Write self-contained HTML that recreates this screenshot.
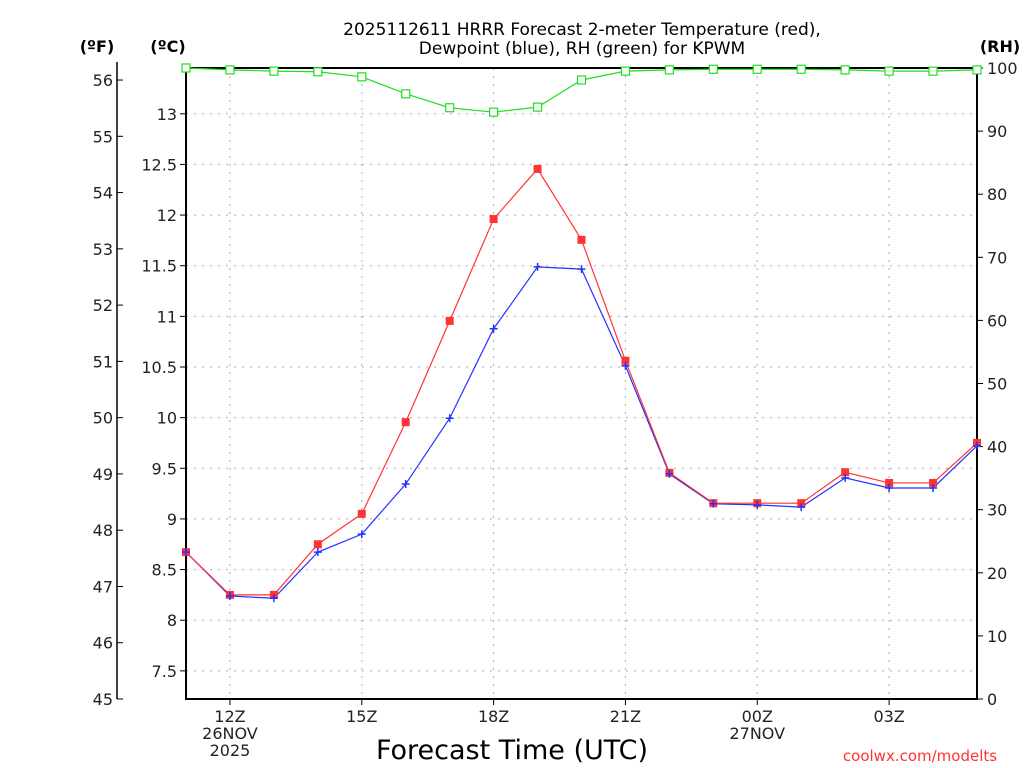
<!DOCTYPE html>
<html><head><meta charset="utf-8"><style>
body{margin:0;background:#fff;}
svg{display:block;font-family:"DejaVu Sans","Liberation Sans",sans-serif;}
</style></head><body>
<svg id="chart" width="1024" height="768" viewBox="0 0 1024 768">
<text x="582" y="35" font-size="17" text-anchor="middle" fill="#000">2025112611 HRRR Forecast 2-meter Temperature (red),</text>
<text x="582" y="54" font-size="17" text-anchor="middle" fill="#000">Dewpoint (blue), RH (green) for KPWM</text>
<text x="97" y="52" font-size="16" font-weight="bold" text-anchor="middle">(ºF)</text>
<text x="168" y="52" font-size="16" font-weight="bold" text-anchor="middle">(ºC)</text>
<text x="1000" y="52" font-size="16" font-weight="bold" text-anchor="middle">(RH)</text>
<text x="512" y="759" font-size="27" text-anchor="middle">Forecast Time (UTC)</text>
<text x="920" y="761" font-size="15" fill="#ff3333" text-anchor="middle">coolwx.com/modelts</text>
<g id="grid"></g><g id="axes"></g><g id="series"></g>
</svg>
<script>
const hours = ["11Z","12Z","13Z","14Z","15Z","16Z","17Z","18Z","19Z","20Z","21Z","22Z","23Z","00Z","01Z","02Z","03Z","04Z","05Z"];
const tempF = [47.61,46.85,46.85,47.75,48.29,49.92,51.72,53.53,54.42,53.16,51.01,49.02,48.48,48.48,48.48,49.03,48.84,48.84,49.55];
const dewF = [47.61,46.83,46.79,47.61,47.93,48.82,49.99,51.58,52.68,52.64,50.92,49.0,48.47,48.45,48.41,48.93,48.75,48.75,49.5];
const rh = [100,99.7,99.5,99.4,98.6,95.9,93.7,93.0,93.8,98.1,99.5,99.7,99.8,99.8,99.8,99.7,99.5,99.5,99.7];
const fTicks = [45,46,47,48,49,50,51,52,53,54,55,56];
const cTicks = [7.5,8,8.5,9,9.5,10,10.5,11,11.5,12,12.5,13];
const rhTicks = [0,10,20,30,40,50,60,70,80,90,100];
const xLabels = [["12Z","26NOV","2025"],["15Z"],["18Z"],["21Z"],["00Z","27NOV"],["03Z"]];
const xLabelIdx = [1,4,7,10,13,16];

const L=186,R=977,T=68,B=699;
const NS="http://www.w3.org/2000/svg";
const xS=i=>L+i*(R-L)/(hours.length-1);
const yF=f=>B-(f-45)*56.27;
const yC=c=>yF(c*1.8+32);
const yRH=r=>B-r*(B-T)/100;
function mk(tag,attrs,parent,text){const e=document.createElementNS(NS,tag);for(const k in attrs)e.setAttribute(k,attrs[k]);if(text!==undefined)e.textContent=text;parent.appendChild(e);return e;}
const grid=document.getElementById('grid'),axes=document.getElementById('axes'),ser=document.getElementById('series');
cTicks.forEach(c=>{const y=yC(c);
 const g=mk('line',{x1:L,x2:R,y1:y,y2:y,stroke:'#aaa','stroke-dasharray':'2,6'},grid);
 
 
 mk('line',{x1:L-6,x2:L,y1:y,y2:y,stroke:'#000'},axes);
 const t=mk('text',{x:L-9,y:y+6,'font-size':16,'text-anchor':'end',fill:'#222'},axes,String(c));
 
 
});
xLabelIdx.forEach((i,k)=>{const x=xS(i);
 const g=mk('line',{x1:x,x2:x,y1:T,y2:B,stroke:'#aaa','stroke-dasharray':'2,6'},grid);
 
 
 mk('line',{x1:x,x2:x,y1:B,y2:B+6,stroke:'#000'},axes);
 xLabels[k].forEach((s,j)=>{const t=mk('text',{x:x,y:B+23+j*17,'font-size':16,'text-anchor':'middle',fill:'#222'},axes,s);
  
  });
});
fTicks.forEach(f=>{const y=yF(f);
 mk('line',{x1:117,x2:123,y1:y,y2:y,stroke:'#000'},axes);
 const t=mk('text',{x:113,y:y+6,'font-size':16,'text-anchor':'end',fill:'#222'},axes,String(f));
 
 
});
mk('line',{x1:117,x2:117,y1:62,y2:B,stroke:'#000','stroke-width':1.5},axes);
rhTicks.forEach(r=>{const y=yRH(r);
 mk('line',{x1:R,x2:R+6,y1:y,y2:y,stroke:'#000'},axes);
 const t=mk('text',{x:R+10,y:y+6,'font-size':16,fill:'#222'},axes,String(r));
 
 
});
mk('rect',{x:L,y:T,width:R-L,height:B-T,fill:'none',stroke:'#000','stroke-width':2},axes);

function line(vals,yf,color,name){
 const p=mk('polyline',{points:vals.map((v,i)=>xS(i)+','+yf(v)).join(' '),fill:'none',stroke:color,'stroke-width':1.2},ser);
 
 
}
line(rh,yRH,'#22dd22','rh');
line(dewF,yF,'#2233ff','dewpoint');
line(tempF,yF,'#ff3333','temperature');
rh.forEach((v,i)=>{const m=mk('rect',{x:xS(i)-4,y:yRH(v)-4,width:8,height:8,fill:'#fff',stroke:'#22dd22','stroke-width':1.2},ser);
 
 });
tempF.forEach((v,i)=>{const m=mk('rect',{x:xS(i)-4,y:yF(v)-4,width:8,height:8,fill:'#ff3333'},ser);
 
 });
dewF.forEach((v,i)=>{const x=xS(i),y=yF(v);
 const m=mk('path',{d:`M${x-4},${y}H${x+4}M${x},${y-4}V${y+4}`,stroke:'#2233ff','stroke-width':1.5},ser);
 
 });
</script>
</body></html>
